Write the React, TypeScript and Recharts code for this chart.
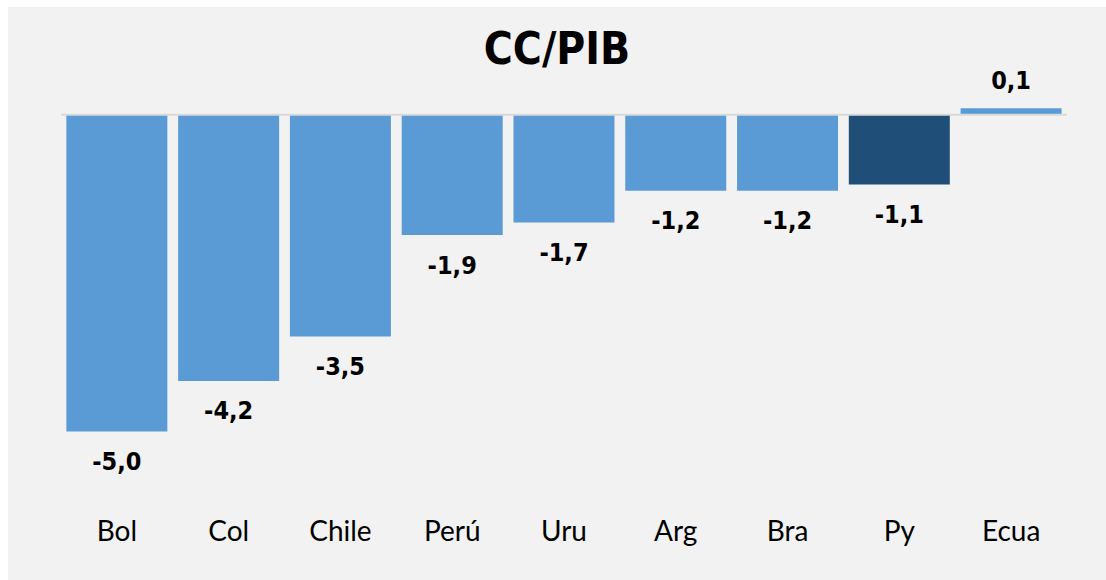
import React from 'react';
import { BarChart, Bar, XAxis, YAxis, Cell, LabelList, ReferenceLine } from 'recharts';

const countries = ['Bol', 'Col', 'Chile', 'Perú', 'Uru', 'Arg', 'Bra', 'Py', 'Ecua'];
const ccPib = [-5.0, -4.2, -3.5, -1.9, -1.7, -1.2, -1.2, -1.1, 0.1];
const highlight = 'Py';

const data = countries.map((name, i) => ({ name, value: ccPib[i] }));

const BLUE = '#5b9bd5';
const DARK = '#1f4e79';
const BG = '#f2f2f2';
const LABEL_FONT = '"Liberation Sans Narrow", "Arial Narrow", "DejaVu Sans Condensed", sans-serif';

const fmt = (v: number) => v.toFixed(1).replace('.', ',');

const ValueLabel = (props: any) => {
    const { x = 0, y = 0, width = 0, height = 0, value = 0 } = props;
    const top = Math.min(y, y + height);
    const bottom = Math.max(y, y + height);
    const cx = x + width / 2;
    const ly = value < 0 ? bottom + 30 : top - 28;
    return (
        <text
            x={cx}
            y={ly}
            textAnchor='middle'
            dominantBaseline='central'
            fontFamily={LABEL_FONT}
            fontWeight='bold'
            fontSize={25}
            fill='#000'
        >
            {fmt(Number(value))}
        </text>
    );
};

const CountryTick = (props: any) => {
    const { x, y, payload } = props;
    return (
        <text
            x={x}
            y={y + 27}
            textAnchor='middle'
            dominantBaseline='central'
            fontFamily='Lato, "Open Sans", sans-serif'
            fontSize={28}
            fill='#000'
        >
            {payload.value}
        </text>
    );
};

export default function App() {
    return (
        <div
            style={{
                position: 'absolute',
                left: 8,
                top: 7,
                width: 1098,
                height: 573,
                background: BG,
            }}
        >
            <div
                style={{
                    position: 'absolute',
                    top: 17,
                    left: 0,
                    width: '100%',
                    textAlign: 'center',
                    fontFamily: LABEL_FONT,
                    fontWeight: 'bold',
                    fontSize: 44,
                    lineHeight: '50px',
                    color: '#000',
                }}
            >
                CC/PIB
            </div>
            <BarChart
                width={1098}
                height={573}
                data={data}
                margin={{ top: 76, right: 39, bottom: 0, left: 53 }}
                barCategoryGap='4.8%'
            >
                <XAxis
                    dataKey='name'
                    axisLine={false}
                    tickLine={false}
                    height={85}
                    tick={<CountryTick />}
                    interval={0}
                />
                <YAxis hide domain={[-6, 0.5]} />
                <ReferenceLine y={0} stroke='#d9d9d9' strokeWidth={2} />
                <Bar dataKey='value' isAnimationActive={false}>
                    {data.map((d) => (
                        <Cell key={d.name} fill={d.name === highlight ? DARK : BLUE} />
                    ))}
                    <LabelList dataKey='value' content={<ValueLabel />} />
                </Bar>
            </BarChart>
        </div>
    );
}
